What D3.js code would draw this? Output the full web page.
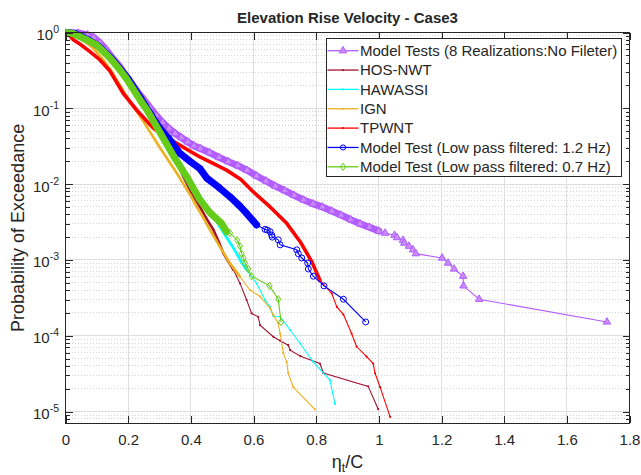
<!DOCTYPE html>
<html>
<head>
<meta charset="utf-8">
<script src="https://cdn.jsdelivr.net/npm/d3@7"></script>
<style>
  body { margin: 0; background: #fff; }
  svg { display: block; }
  text { font-family: "Liberation Sans", Arial, Helvetica, sans-serif; fill: #262626; }
</style>
</head>
<body>
<svg id="chart" width="641" height="475"></svg>
<script>
// ---- exceedance data: x = eta_t / C, p = probability of exceedance ----
const seriesNames = [
  "Model Tests (8 Realizations:No Fileter)",
  "HOS-NWT",
  "HAWASSI",
  "IGN",
  "TPWNT",
  "Model Test (Low pass filtered: 1.2 Hz)",
  "Model Test (Low pass filtered: 0.7 Hz)"
];

const rawX = [0, 0.04, 0.07, 0.09, 0.11, 0.13, 0.15, 0.17, 0.19, 0.21, 0.23, 0.25, 0.27, 0.29, 0.31, 0.33, 0.35, 0.37, 0.39, 0.41, 0.43, 0.46, 0.49, 0.52, 0.55, 0.58, 0.61, 0.64, 0.67, 0.70, 0.73, 0.76, 0.79, 0.82, 0.85, 0.88, 0.91, 0.94, 0.97, 1.00, 1.02, 1.05, 1.058, 1.077, 1.081, 1.096, 1.109, 1.118, 1.202, 1.221, 1.24, 1.269, 1.27, 1.32, 1.728];
const rawP = [1, 0.985, 0.93, 0.86, 0.73, 0.59, 0.46, 0.37, 0.28, 0.215, 0.165, 0.13, 0.102, 0.08, 0.065, 0.054, 0.0465, 0.041, 0.036, 0.032, 0.0295, 0.026, 0.0225, 0.0198, 0.0175, 0.0152, 0.0128, 0.011, 0.0094, 0.0082, 0.0071, 0.0062, 0.0055, 0.0050, 0.0044, 0.0039, 0.0034, 0.0030, 0.0027, 0.0024, 0.00226, 0.00212, 0.00197, 0.00182, 0.00167, 0.00152, 0.00136, 0.00121, 0.00106, 0.00091, 0.00076, 0.00061, 0.000455, 0.000303, 0.000152];

const hosX = [0, 0.03, 0.07, 0.10, 0.14, 0.175, 0.20, 0.24, 0.27, 0.30, 0.33, 0.355, 0.376, 0.40, 0.429, 0.45, 0.472, 0.49, 0.504, 0.52, 0.536, 0.557, 0.578, 0.594, 0.615, 0.621, 0.663, 0.685, 0.711, 0.717, 0.75, 0.812, 0.823, 0.966, 0.998];
const hosP = [1, 0.97, 0.80, 0.66, 0.45, 0.30, 0.22, 0.12, 0.08, 0.050, 0.030, 0.020, 0.0125, 0.0080, 0.0050, 0.0035, 0.0025, 0.0017, 0.00122, 0.00095, 0.00074, 0.00049, 0.000296, 0.000197, 0.000178, 0.000138, 0.000097, 0.000086, 0.000075, 0.0000645, 0.0000538, 0.000043, 0.0000323, 0.0000215, 0.00001075];

const hawX = [0, 0.03, 0.07, 0.10, 0.14, 0.175, 0.20, 0.24, 0.27, 0.30, 0.33, 0.36, 0.39, 0.42, 0.45, 0.48, 0.51, 0.54, 0.56, 0.578, 0.61, 0.637, 0.653, 0.663, 0.685, 0.717, 0.749, 0.791, 0.844, 0.86];
const hawP = [1, 0.97, 0.80, 0.67, 0.45, 0.30, 0.22, 0.125, 0.082, 0.052, 0.033, 0.021, 0.013, 0.0080, 0.0052, 0.0033, 0.0021, 0.00135, 0.00095, 0.00074, 0.00049, 0.000296, 0.00024, 0.000182, 0.000178, 0.000119, 0.000079, 0.000045, 0.000026, 0.0000126];

const ignX = [0, 0.02, 0.046, 0.085, 0.12, 0.147, 0.17, 0.195, 0.22, 0.248, 0.275, 0.302, 0.33, 0.355, 0.38, 0.40, 0.419, 0.44, 0.461, 0.493, 0.525, 0.557, 0.589, 0.621, 0.653, 0.663, 0.679, 0.685, 0.695, 0.706, 0.711, 0.727, 0.796];
const ignP = [1, 0.96, 0.85, 0.64, 0.44, 0.31, 0.215, 0.145, 0.10, 0.068, 0.045, 0.030, 0.020, 0.014, 0.0095, 0.0070, 0.0050, 0.0036, 0.0025, 0.00149, 0.0009, 0.0006, 0.0004, 0.00033, 0.00023, 0.000188, 0.000146, 0.000107, 0.000059, 0.000045, 0.000032, 0.000021, 0.0000107];

const tpX = [0, 0.011, 0.025, 0.046, 0.078, 0.11, 0.142, 0.184, 0.227, 0.259, 0.28, 0.311, 0.355, 0.429, 0.514, 0.56, 0.598, 0.653, 0.706, 0.749, 0.786, 0.812, 0.85, 0.866, 0.887, 0.913, 0.929, 0.961, 0.982, 0.988, 1.004, 1.036];
const tpP = [1, 0.94, 0.80, 0.705, 0.56, 0.434, 0.31, 0.158, 0.095, 0.068, 0.055, 0.0445, 0.0345, 0.0228, 0.0153, 0.0115, 0.0080, 0.0050, 0.00304, 0.00174, 0.00095, 0.00054, 0.00036, 0.00024, 0.00019, 0.000107, 0.000072, 0.000053, 0.000043, 0.000032, 0.000021, 0.0000085];

const lp12X = [0, 0.03, 0.072, 0.104, 0.145, 0.177, 0.20, 0.241, 0.27, 0.30, 0.33, 0.365, 0.397, 0.429, 0.451, 0.49, 0.525, 0.555, 0.578, 0.61, 0.637, 0.644, 0.653, 0.658, 0.66, 0.679, 0.685, 0.738, 0.743, 0.754, 0.773, 0.775, 0.791, 0.825, 0.887, 0.958];
const lp12P = [1, 0.97, 0.80, 0.67, 0.46, 0.32, 0.244, 0.133, 0.085, 0.055, 0.040, 0.0255, 0.020, 0.016, 0.0120, 0.0090, 0.0068, 0.0052, 0.0041, 0.0029, 0.00253, 0.00248, 0.00236, 0.00213, 0.0020, 0.00184, 0.00158, 0.00136, 0.00121, 0.00106, 0.00091, 0.00076, 0.00061, 0.000455, 0.000303, 0.000152];

const lp07X = [0, 0.024, 0.068, 0.0996, 0.142, 0.174, 0.195, 0.238, 0.26, 0.291, 0.343, 0.387, 0.429, 0.461, 0.498, 0.514, 0.525, 0.548, 0.557, 0.562, 0.568, 0.573, 0.583, 0.594, 0.651, 0.679, 0.688];
const lp07P = [1, 0.97, 0.80, 0.684, 0.46, 0.32, 0.244, 0.129, 0.095, 0.057, 0.0242, 0.0125, 0.0062, 0.0042, 0.00303, 0.00236, 0.00227, 0.00182, 0.00152, 0.00121, 0.00106, 0.00091, 0.00076, 0.00061, 0.000455, 0.000303, 0.000152];

// ---- axis ticks ----
const xTicks = [0, 0.2, 0.4, 0.6, 0.8, 1, 1.2, 1.4, 1.6, 1.8];
const xTickLabels = ["0", "0.2", "0.4", "0.6", "0.8", "1", "1.2", "1.4", "1.6", "1.8"];
const yTickExponents = [0, -1, -2, -3, -4, -5];

// ---- drawing styles (order = plotting order) ----
const styles = [
  { color: "#b35cff", fill: "#c98cff", marker: "triangle", band: 7,   bandMin: 0.0024 },
  { color: "#a2142f", fill: "#a2142f", marker: "dot",      band: 2.6, bandMin: 0.00074 },
  { color: "#00ffff", fill: "#00ffff", marker: "dot",      band: 2.6, bandMin: 0.00074 },
  { color: "#edb120", fill: "#edb120", marker: "dot",      band: 2.6, bandMin: 0.0006 },
  { color: "#ff0000", fill: "#ff0000", marker: "dot",      band: 3.6, bandMin: 0.00054 },
  { color: "#0000ff", fill: "none",    marker: "circle",   band: 7,   bandMin: 0.0029 },
  { color: "#66cc1a", fill: "none",    marker: "diamond",  band: 7,   bandMin: 0.0023 }
];

const seriesData = [
  [rawX, rawP], [hosX, hosP], [hawX, hawP], [ignX, ignP],
  [tpX, tpP], [lp12X, lp12P], [lp07X, lp07P]
].map(([xs, ps]) => xs.map((v, i) => ({ x: v, p: ps[i] })));

// ---- layout ----
const X0 = 65.5, X1 = 629.5, Y0 = 32.5, Y1 = 423.3;
const x = d3.scaleLinear().domain([0, 1.8]).range([X0, X1]);
const y = d3.scaleLog().domain([7e-6, 1]).range([Y1, Y0]);

const svg = d3.select("#chart");
svg.append("rect").attr("width", 641).attr("height", 475).attr("fill", "#fff");

svg.append("defs").append("clipPath").attr("id", "plotClip")
  .append("rect").attr("x", X0).attr("y", Y0 - 4).attr("width", X1 - X0).attr("height", Y1 - Y0 + 4);

const yMajor = yTickExponents.map(e => Math.pow(10, e));
const yMinor = [];
for (let e = -6; e < 0; e++) {
  for (let m = 2; m <= 9; m++) {
    const v = m * Math.pow(10, e);
    if (v >= 7e-6 && v <= 1) yMinor.push(v);
  }
}

// grid
const grid = svg.append("g").attr("shape-rendering", "crispEdges");
grid.selectAll(".yminor").data(yMinor).join("line")
  .attr("x1", X0).attr("x2", X1).attr("y1", d => y(d)).attr("y2", d => y(d))
  .attr("stroke", "#d4d4d4").attr("stroke-dasharray", "1,2");
grid.selectAll(".ymajor").data(yMajor).join("line")
  .attr("x1", X0).attr("x2", X1).attr("y1", d => y(d)).attr("y2", d => y(d))
  .attr("stroke", "#dedede");
grid.selectAll(".xmajor").data(xTicks).join("line")
  .attr("x1", d => x(d)).attr("x2", d => x(d)).attr("y1", Y0).attr("y2", Y1)
  .attr("stroke", "#dedede");

// series
const plot = svg.append("g").attr("clip-path", "url(#plotClip)");
const line = d3.line().x(d => x(d.x)).y(d => y(d.p));

function markerPath(kind) {
  if (kind === "triangle") return d3.symbol(d3.symbolTriangle, 24)();
  if (kind === "diamond") return "M0,-3.6L2.6,0L0,3.6L-2.6,0Z";
  return null;
}

seriesData.forEach((pts, si) => {
  const st = styles[si];
  const g = plot.append("g");
  // densely packed markers merge into a solid band
  const dense = pts.filter(d => d.p >= st.bandMin);
  g.append("path").datum(dense).attr("d", line)
    .attr("fill", "none").attr("stroke", st.color).attr("stroke-width", st.band)
    .attr("stroke-linejoin", "round").attr("stroke-linecap", "round");
  g.append("path").datum(pts).attr("d", line)
    .attr("fill", "none").attr("stroke", st.color).attr("stroke-width", 1.1);
  const mk = g.selectAll(".m").data(pts).join("g")
    .attr("transform", d => `translate(${x(d.x)},${y(d.p)})`);
  if (st.marker === "circle") {
    mk.append("circle").attr("r", 3).attr("fill", "none").attr("stroke", st.color).attr("stroke-width", 1);
  } else if (st.marker === "dot") {
    mk.append("circle").attr("r", 1.1).attr("fill", st.color);
  } else {
    mk.append("path").attr("d", markerPath(st.marker))
      .attr("fill", st.fill).attr("stroke", st.color).attr("stroke-width", 1);
  }
});

// axes (ticks point inward, box on)
const axG = svg.append("g").attr("shape-rendering", "crispEdges");
const axBottom = axG.append("g").attr("transform", `translate(0,${Y1})`)
  .call(d3.axisBottom(x).tickValues(xTicks).tickSize(-7).tickPadding(11)
    .tickFormat((d, i) => xTickLabels[i]));
axG.append("g").attr("transform", `translate(0,${Y0})`)
  .call(d3.axisTop(x).tickValues(xTicks).tickSize(-7).tickFormat(""));
axG.append("g").attr("transform", `translate(${X0},0)`)
  .call(d3.axisLeft(y).tickValues(yMajor).tickSize(-7).tickFormat(""));
axG.append("g").attr("transform", `translate(${X0},0)`)
  .call(d3.axisLeft(y).tickValues(yMinor).tickSize(-4).tickFormat(""));
axG.append("g").attr("transform", `translate(${X1},0)`)
  .call(d3.axisRight(y).tickValues(yMajor).tickSize(-7).tickFormat(""));
axG.append("g").attr("transform", `translate(${X1},0)`)
  .call(d3.axisRight(y).tickValues(yMinor).tickSize(-4).tickFormat(""));

axG.selectAll(".domain").remove();
axG.selectAll(".tick line").attr("stroke", "#262626");
axBottom.selectAll("text").attr("font-size", "15px").attr("fill", "#262626")
  .attr("font-family", "\"Liberation Sans\", Arial, sans-serif");

svg.append("rect").attr("x", X0).attr("y", Y0).attr("width", X1 - X0).attr("height", Y1 - Y0)
  .attr("fill", "none").attr("stroke", "#262626").attr("stroke-width", 1)
  .attr("shape-rendering", "crispEdges");

// y tick labels: 10^e
yTickExponents.forEach(e => {
  const t = svg.append("text").attr("x", 59).attr("y", y(Math.pow(10, e)) + 7.5)
    .attr("text-anchor", "end").attr("font-size", "15px");
  t.append("tspan").text("10");
  t.append("tspan").attr("dy", -7).attr("font-size", "10.5px").text(e === 0 ? "0" : "-" + Math.abs(e));
});

// title and axis labels
svg.append("text").attr("x", (X0 + X1) / 2).attr("y", 23).attr("text-anchor", "middle")
  .attr("font-size", "15px").attr("font-weight", "bold").attr("fill", "#000")
  .text("Elevation Rise Velocity - Case3");

const xl = svg.append("text").attr("x", (X0 + X1) / 2).attr("y", 468).attr("text-anchor", "middle")
  .attr("font-size", "18px");
xl.append("tspan").text("η");
xl.append("tspan").attr("dy", 4).attr("font-size", "12px").text("t");
xl.append("tspan").attr("dy", -4).text("/C");

svg.append("text").attr("transform", `translate(24,${(Y0 + Y1) / 2}) rotate(-90)`)
  .attr("text-anchor", "middle").attr("font-size", "18px")
  .text("Probability of Exceedance");

// legend
const LX = 326.5, LY = 38.5, LW = 295, LH = 138;
const leg = svg.append("g");
leg.append("rect").attr("x", LX).attr("y", LY).attr("width", LW).attr("height", LH)
  .attr("fill", "#fff").attr("stroke", "#262626").attr("stroke-width", 1)
  .attr("shape-rendering", "crispEdges");
seriesNames.forEach((name, i) => {
  const st = styles[i];
  const cy = 50.7 + i * 19.35;
  leg.append("line").attr("x1", LX + 1).attr("x2", LX + 32).attr("y1", cy).attr("y2", cy)
    .attr("stroke", st.color).attr("stroke-width", 1.3);
  const mg = leg.append("g").attr("transform", `translate(${LX + 16.5},${cy})`);
  if (st.marker === "circle") {
    mg.append("circle").attr("r", 2.6).attr("fill", "none").attr("stroke", st.color);
  } else if (st.marker === "dot") {
    mg.append("circle").attr("r", 1.1).attr("fill", st.color);
  } else {
    mg.append("path").attr("d", markerPath(st.marker)).attr("fill", st.fill).attr("stroke", st.color);
  }
  leg.append("text").attr("x", LX + 33.5).attr("y", cy + 5.3).attr("font-size", "15px")
    .attr("fill", "#000").text(name);
});
</script>
</body>
</html>
